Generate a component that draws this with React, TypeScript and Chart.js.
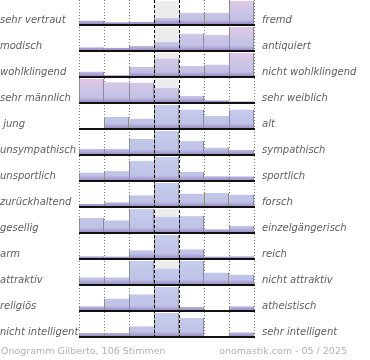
import React, { useEffect, useRef } from "react";
import { Chart, registerables } from "chart.js";

Chart.register(...registerables);

// ---- data ----
const columns = ["1", "2", "3", "4", "5", "6", "7"];

const leftLabels = [
  "sehr vertraut", "modisch", "wohlklingend", "sehr männlich", " jung",
  "unsympathisch", "unsportlich", "zurückhaltend", "gesellig", "arm",
  "attraktiv", "religiös", "nicht intelligent",
];

const rightLabels = [
  "fremd", "antiquiert", "nicht wohlklingend", "sehr weiblich", "alt",
  "sympathisch", "sportlich", "forsch", "einzelgängerisch", "reich",
  "nicht attraktiv", "atheistisch", "sehr intelligent",
];

// percentage of votes per column (1..7) for each row
const rowVertraut = [6, 3, 4, 10, 19, 19, 39];
const rowModisch = [4, 3, 6, 11, 23, 21, 32];
const rowWohlklingend = [6, 1, 12, 23, 13, 15, 30];
const rowMaennlich = [27, 23, 23, 17, 7, 2, 1];
const rowJung = [0, 12, 10, 25, 20, 13, 20];
const rowUnsympathisch = [7, 7, 21, 32, 18, 9, 6];
const rowUnsportlich = [10, 12, 26, 31, 11, 5, 5];
const rowZurueckhaltend = [3, 5, 14, 30, 16, 17, 15];
const rowGesellig = [16, 13, 26, 17, 18, 3, 7];
const rowArm = [4, 3, 17, 50, 19, 3, 4];
const rowAttraktiv = [7, 7, 24, 16, 24, 12, 10];
const rowReligioes = [6, 19, 26, 38, 5, 0, 6];
const rowIntelligent = [5, 5, 16, 38, 30, 0, 6];

const rows = [
  rowVertraut, rowModisch, rowWohlklingend, rowMaennlich, rowJung,
  rowUnsympathisch, rowUnsportlich, rowZurueckhaltend, rowGesellig, rowArm,
  rowAttraktiv, rowReligioes, rowIntelligent,
];

const footerLeft = "Onogramm Gilberto, 106 Stimmen";
const footerRight = "onomastik.com - 05 / 2025";

// ---- layout (scale units = px) ----
const ROW_H = 26;
const BAR_MAX = 23;
const GAP = 1;
const Y_MAX = rows.length * ROW_H;
const CENTER = 3;

const baseOf = (i: number) => (rows.length - 1 - i) * ROW_H + 1;

function rowGradient(chart: any, i: number) {
  const y = chart.scales && chart.scales.y;
  const fallback = i < 4 ? "#cdc6e6" : "#c3c9ea";
  if (!y || !chart.chartArea) return fallback;
  const base = baseOf(i);
  const top = y.getPixelForValue(base + GAP + BAR_MAX);
  const bottom = y.getPixelForValue(base + GAP);
  if (!isFinite(top) || !isFinite(bottom)) return fallback;
  const g = chart.ctx.createLinearGradient(0, top, 0, bottom);
  if (i < 4) {
    g.addColorStop(0, "#e0c6e5");
    g.addColorStop(0.45, "#cdc6e6");
    g.addColorStop(0.82, "#c1c0e4");
    g.addColorStop(1, "#9c8cc4");
  } else {
    g.addColorStop(0, "#c6cdec");
    g.addColorStop(0.8, "#bec3e7");
    g.addColorStop(1, "#a092c7");
  }
  return g;
}

const decorPlugin = {
  id: "decor",
  beforeDatasetsDraw(chart: any) {
    const { ctx, chartArea, scales } = chart;
    const x = scales.x;
    const half = (x.getPixelForValue(1) - x.getPixelForValue(0)) / 2;
    ctx.save();
    ctx.strokeStyle = "#7a7a7a";
    ctx.lineWidth = 1;
    ctx.setLineDash([1, 2]);
    for (let j = 0; j <= columns.length; j++) {
      if (j === CENTER || j === CENTER + 1) continue;
      const px = Math.round(x.getPixelForValue(0) - half + j * 2 * half) + 0.5;
      ctx.beginPath();
      ctx.moveTo(px, chartArea.top);
      ctx.lineTo(px, chartArea.bottom);
      ctx.stroke();
    }
    ctx.restore();
  },
  afterDatasetsDraw(chart: any) {
    const { ctx, chartArea, scales } = chart;
    const x = scales.x;
    const y = scales.y;
    const half = (x.getPixelForValue(1) - x.getPixelForValue(0)) / 2;
    const left = x.getPixelForValue(0) - half;
    const right = x.getPixelForValue(columns.length - 1) + half;
    ctx.save();
    // dashed centre column
    ctx.strokeStyle = "#000";
    ctx.lineWidth = 1;
    ctx.setLineDash([3, 2]);
    for (const j of [CENTER, CENTER + 1]) {
      const px = Math.round(left + j * 2 * half) + 0.5;
      ctx.beginPath();
      ctx.moveTo(px, chartArea.top);
      ctx.lineTo(px, chartArea.bottom);
      ctx.stroke();
    }
    ctx.setLineDash([]);
    // baselines
    ctx.strokeStyle = "#111";
    ctx.lineWidth = 2;
    rows.forEach((_, i) => {
      const py = Math.round(y.getPixelForValue(baseOf(i)));
      ctx.beginPath();
      ctx.moveTo(left, py);
      ctx.lineTo(right + 1, py);
      ctx.stroke();
    });
    // labels
    ctx.font = "italic 10px 'DejaVu Sans'";
    ctx.fillStyle = "#5e5e5e";
    ctx.textBaseline = "middle";
    rows.forEach((_, i) => {
      const py = y.getPixelForValue(baseOf(i)) - 5;
      ctx.textAlign = "left";
      ctx.fillText(leftLabels[i], 0, py);
      ctx.fillText(rightLabels[i], right + 8, py);
    });
    // footer
    ctx.font = "9.5px 'DejaVu Sans'";
    ctx.fillStyle = "#b2b2b2";
    ctx.textAlign = "left";
    ctx.fillText(footerLeft, 1, 352);
    ctx.textAlign = "right";
    ctx.fillText(footerRight, 347, 352);
    ctx.restore();
  },
};

export default function App() {
  const ref = useRef<HTMLCanvasElement | null>(null);

  useEffect(() => {
    if (!ref.current) return;

    const barSets = rows.map((vals, i) => {
      const max = Math.max(...vals);
      const base = baseOf(i);
      return {
        type: "bar" as const,
        data: vals.map((v) => [base + GAP, base + GAP + (v / max) * BAR_MAX]),
        grouped: false,
        barPercentage: 1,
        categoryPercentage: 1,
        backgroundColor: (ctx: any) => rowGradient(ctx.chart, i),
        borderColor: "#8e8e8e",
        borderSkipped: false,
        inflateAmount: 0,
        borderWidth: (ctx: any) => {
          const j = ctx.dataIndex;
          const v = vals[j];
          const prev = j > 0 ? vals[j - 1] : -1;
          const next = j < vals.length - 1 ? vals[j + 1] : -1;
          return {
            left: prev > v ? 0 : 1,
            right: next < v ? 1 : 0,
            top: 0,
            bottom: 0,
          };
        },
        order: 1,
      };
    });

    const greySets = rows.map((vals, i) => {
      const max = Math.max(...vals);
      const base = baseOf(i);
      const c = vals[CENTER];
      return {
        type: "bar" as const,
        data: vals.map((_, j) =>
          j === CENTER && c < max
            ? [base + GAP + (c / max) * BAR_MAX, base + GAP + BAR_MAX]
            : null
        ),
        grouped: false,
        barPercentage: 1,
        categoryPercentage: 1,
        backgroundColor: "#ececec",
        borderWidth: 0,
        inflateAmount: 0,
        order: 2,
      };
    });

    const chart = new Chart(ref.current, {
      type: "bar",
      data: {
        labels: columns,
        datasets: [...greySets, ...barSets] as any,
      },
      options: {
        animation: false,
        responsive: false,
        devicePixelRatio: 1,
        layout: { padding: { left: 79, right: 116, top: 0, bottom: 360 - Y_MAX } },
        scales: {
          x: { type: "category", display: false, offset: true },
          y: { type: "linear", display: false, min: 0, max: Y_MAX },
        },
        plugins: {
          legend: { display: false },
          tooltip: { enabled: false },
        },
      },
      plugins: [decorPlugin],
    });

    return () => chart.destroy();
  }, []);

  return (
    <div style={{ position: "absolute", left: 0, top: 0, width: 370, height: 360, background: "#fff" }}>
      <canvas ref={ref} width={370} height={360} style={{ display: "block" }} />
    </div>
  );
}
